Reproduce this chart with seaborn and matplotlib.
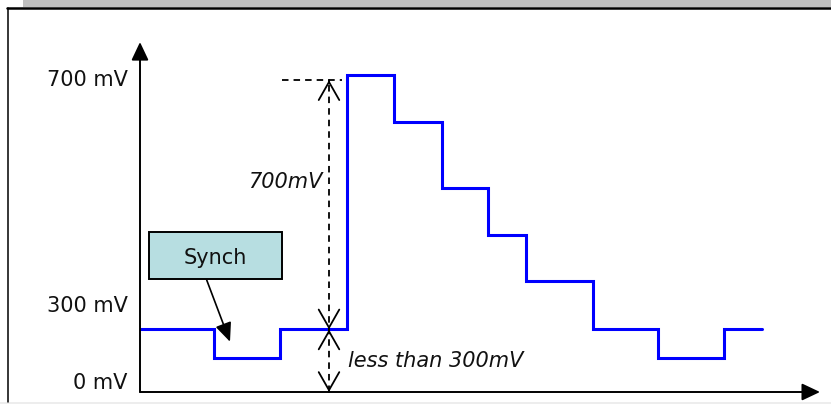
import numpy as np
import pandas as pd
import matplotlib.pyplot as plt
import seaborn as sns
from matplotlib.patches import Rectangle
from matplotlib.lines import Line2D

# Video line: step changes (time in arbitrary units, level in mV)
time = [0, 74, 140, 207, 254, 302, 348, 386, 453, 518, 584, 622]
level = [138, 76, 138, 700, 596, 451, 346, 245, 138, 76, 138, 138]

# labels on the left of the vertical axis
level_labels = ["700 mV", "300 mV", "0 mV"]
level_label_pos = [676, 176, 7]

peak_ref = 688   # top of the 700mV dimension line
blank_ref = 138  # blanking level
dim_x = 189      # x of the dimension lines

sns.set_theme(style="white")
plt.rcParams["font.family"] = ["DejaVu Sans"]

W, H = 831, 404
fig = plt.figure(figsize=(W / 100, H / 100), dpi=100)
fig.patch.set_facecolor("white")
ax = fig.add_axes([140 / W, 12 / H, 680 / W, 349 / H])

df = pd.DataFrame({"time": time, "level": level})
sns.lineplot(data=df, x="time", y="level", ax=ax, color="#0000ff",
             linewidth=2.2, drawstyle="steps-post", solid_joinstyle="miter")

ax.set_xlim(0, 680)
ax.set_ylim(0, 770)
ax.set_axis_off()

# axes with filled arrow heads
axis_arrow = dict(arrowstyle="-|>,head_length=1.1,head_width=0.52", mutation_scale=10,
                  color="black", lw=1.4, shrinkA=0, shrinkB=0)
ax.annotate("", xy=(680, 0), xytext=(0, 0), arrowprops=axis_arrow, annotation_clip=False)
ax.annotate("", xy=(0, 772), xytext=(0, 0), arrowprops=axis_arrow, annotation_clip=False)

for lab, pos in zip(level_labels, level_label_pos):
    ax.text(-12.5, pos, lab, ha="right", va="baseline", fontsize=15, color="#111111")

# dimension lines
dash = dict(color="black", lw=1.3, linestyle=(0, (3.6, 2.8)))
ax.plot([dim_x, dim_x], [0, peak_ref], **dash)
ax.plot([142, 202], [peak_ref, peak_ref], **dash)


def open_head(y_tip, direction):
    ax.annotate("", xy=(dim_x, y_tip), xytext=(dim_x, y_tip - direction * 0.5),
                arrowprops=dict(arrowstyle="->,head_length=1.3,head_width=0.74",
                                mutation_scale=10, color="black", lw=1.3,
                                shrinkA=0, shrinkB=0),
                annotation_clip=False)


open_head(peak_ref, 1)
open_head(blank_ref, -1)
open_head(blank_ref, 1)
open_head(0, -1)

ax.text(182, 450, "700mV", ha="right", va="baseline", fontsize=15, style="italic", color="#111111")
ax.text(207.5, 55, "less than 300mV", ha="left", va="baseline", fontsize=15, style="italic", color="#111111")

# Synch callout
ax.add_patch(Rectangle((9, 249), 133, 105, facecolor="#b7dee1", edgecolor="black", lw=1.4, clip_on=False))
ax.text(75.5, 282, "Synch", ha="center", va="baseline", fontsize=15, color="#111111")
ax.annotate("", xy=(90, 111), xytext=(66.7, 247),
            arrowprops=dict(arrowstyle="-|>,head_length=1.15,head_width=0.5", mutation_scale=10,
                            color="black", lw=1.2, shrinkA=0, shrinkB=0))

# page frame
def fx(p):
    return p / W


def fy(p):
    return 1 - p / H


fig.add_artist(Rectangle((fx(23), fy(7)), 1 - fx(23), 7 / H, transform=fig.transFigure,
                         facecolor="#c0c0c0", lw=0))
fig.add_artist(Rectangle((0, 0), 1, 2.5 / H, transform=fig.transFigure,
                         facecolor="#ededed", lw=0))
fig.add_artist(Line2D([fx(7), 1], [fy(8), fy(8)], color="black", lw=1.8, transform=fig.transFigure))
fig.add_artist(Line2D([fx(8), fx(8)], [fy(8), fy(401.5)], color="black", lw=1.1, transform=fig.transFigure))

fig.savefig("out.png", dpi=100)
